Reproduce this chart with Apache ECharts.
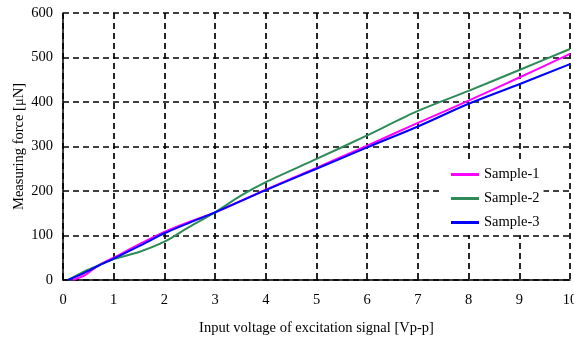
<!DOCTYPE html>
<html><head><meta charset="utf-8">
<script src="https://cdn.jsdelivr.net/npm/echarts@6/dist/echarts.min.js"></script>
<style>html,body{margin:0;padding:0;background:#fff}#c{width:574px;height:339px}</style>
</head><body><div id="c"></div>
<script>
const xTicks = [0,1,2,3,4,5,6,7,8,9,10];
const yTicks = [0,100,200,300,400,500,600];
const sample1 = [[0.2,0],[0.45,12],[0.7,33],[1,50],[1.5,80],[2,108],[2.5,131],[3,152],[4,203],[5,252],[6,302],[7,353],[8,403],[9,455],[10,508]];
const sample2 = [[0.1,0],[0.3,12],[0.45,21],[0.7,33],[1,47],[1.5,63],[2,86],[2.5,120],[3,152],[3.5,189],[4,220],[5,272],[6,325],[7,380],[8,425],[9,472],[10,519]];
const sample3 = [[0.1,0],[0.4,15],[0.7,32],[1,48],[1.5,76],[2,105],[2.5,129],[3,152],[4,202],[5,250],[6,298],[7,345],[8,396],[9,440],[10,485]];
const names = ['Sample-1','Sample-2','Sample-3'];
const colors = ['#ff00ff','#2e8b57','#0000ff'];
const font = 'Liberation Serif';
const chart = echarts.init(document.getElementById('c'));
const split = {show:true,lineStyle:{color:'#000',type:[6,4],width:1.7}};
chart.setOption({
  animation:false,
  textStyle:{fontFamily:font},
  grid:{left:63,right:4,top:13,bottom:59,outerBoundsMode:'none',containLabel:false},
  legend:{
    orient:'vertical', left:442, top:161, itemWidth:28, itemHeight:3, itemGap:9,
    backgroundColor:'#fff', padding:[6,4,5,9],
    icon:'rect',
    textStyle:{fontFamily:font,fontSize:14.5,color:'#000'},
    data:names
  },
  xAxis:{type:'value',min:0,max:10,interval:1,
    name:'Input voltage of excitation signal [Vp-p]',nameLocation:'middle',nameGap:41,nameMoveOverlap:false,
    nameTextStyle:{fontFamily:font,fontSize:14.5,color:'#000'},
    axisLine:{lineStyle:{color:'#000',width:1.5}},axisTick:{show:false},
    axisLabel:{fontFamily:font,fontSize:14.5,color:'#000',margin:13,formatter:v=>xTicks.includes(v)?String(v):''},
    splitLine:split},
  yAxis:{type:'value',min:0,max:600,interval:100,
    name:'Measuring force [μN]',nameLocation:'middle',nameGap:36,nameMoveOverlap:false,
    nameTextStyle:{fontFamily:font,fontSize:14.5,color:'#000'},
    axisLine:{show:true,lineStyle:{color:'#000',width:1.5}},axisTick:{show:false},
    axisLabel:{fontFamily:font,fontSize:14.5,color:'#000',margin:10,formatter:v=>yTicks.includes(v)?String(v):''},
    splitLine:split},
  series:[sample1,sample2,sample3].map((d,i)=>({
    name:names[i],type:'line',data:d,smooth:0.3,showSymbol:false,symbol:'none',
    color:colors[i],lineStyle:{color:colors[i],width:2},z:3+i
  }))
});
</script></body></html>
